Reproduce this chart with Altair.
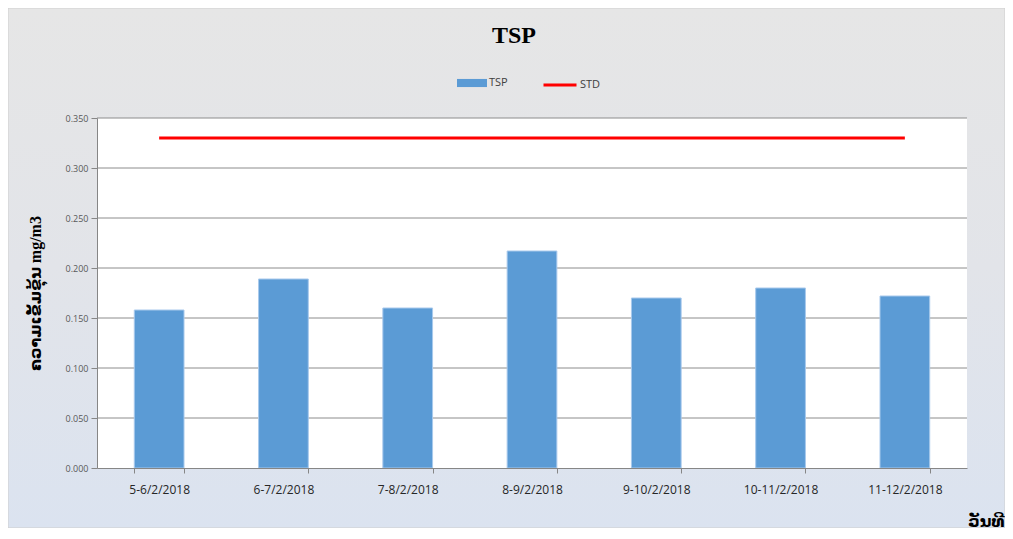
import altair as alt
import pandas as pd

dates = ["5-6/2/2018", "6-7/2/2018", "7-8/2/2018", "8-9/2/2018",
         "9-10/2/2018", "10-11/2/2018", "11-12/2/2018"]
tsp_values = [0.158, 0.189, 0.160, 0.217, 0.170, 0.180, 0.172]
std_values = [0.330, 0.330, 0.330, 0.330, 0.330, 0.330, 0.330]
y_ticks = [0.0, 0.05, 0.10, 0.15, 0.20, 0.25, 0.30, 0.35]
grid_values = [0.05, 0.10, 0.15, 0.20, 0.25, 0.30, 0.35]

W, H = 870, 350
PL, PT, PR, PB = 89, 110, 38, 60

bars_df = pd.DataFrame({"date": dates, "value": tsp_values, "series": "TSP"})
std_df = pd.DataFrame({"date": dates, "value": std_values, "series": "STD"})
grid_df = pd.DataFrame({"value": grid_values})

x_scale = alt.Scale(domain=dates, paddingInner=0.6, paddingOuter=0.3)
y_scale = alt.Scale(domain=[0, 0.35])

x_axis = alt.Axis(
    title="ວັນທີ", titleFont="Liberation Serif, DejaVu Sans", titleFontSize=16,
    titleFontWeight="bold", titleColor="#000000", titleAlign="right",
    titleBaseline="alphabetic", titleX=907, titleY=58, titleAnchor="end",
    labelAngle=0, labelFont="Open Sans", labelFontSize=12, labelColor="#262626",
    labelPadding=11, tickBand="extent", tickSize=5, tickColor="#868686",
    domainColor="#868686", grid=False, zindex=1,
)
y_axis = alt.Axis(
    title="ຄວາມເຂັ້ມຂຸ້ນ mg/m3", titleFont="Liberation Serif, DejaVu Sans",
    titleFontSize=16, titleFontWeight="bold", titleColor="#000000",
    titleAngle=270, titleAlign="center", titleBaseline="middle",
    titleX=-62, titleY=175,
    values=y_ticks, format=".3f", labelFont="Open Sans", labelFontSize=9,
    labelColor="#595959", labelPadding=3, tickSize=6, tickColor="#868686",
    domainColor="#868686", grid=False, zindex=1,
)

fill_enc = alt.Fill(
    "series:N", scale=alt.Scale(domain=["TSP"], range=["#5B9BD5"]),
    legend=alt.Legend(title=None, orient="none", legendX=360, legendY=-50,
                      symbolType="M-1,-0.27H1V0.27H-1Z", symbolSize=900,
                      symbolStrokeWidth=0, symbolOpacity=1,
                      labelFont="Open Sans", labelFontSize=11,
                      labelColor="#404040", labelOffset=2, zindex=1))
stroke_enc = alt.Stroke(
    "series:N", scale=alt.Scale(domain=["STD"], range=["#FF0000"]),
    legend=alt.Legend(title=None, orient="none", legendX=445, legendY=-51,
                      symbolType="stroke", symbolSize=1089,
                      symbolStrokeWidth=3, symbolOpacity=1,
                      labelFont="Open Sans", labelFontSize=11,
                      labelColor="#404040", labelOffset=2, zindex=1))

background = alt.Chart(alt.Data(values=[{}])).mark_rect(
    fill=alt.LinearGradient(
        gradient="linear",
        stops=[alt.GradientStop(color="#e6e6e6", offset=0),
               alt.GradientStop(color="#e2e4e9", offset=0.5),
               alt.GradientStop(color="#dbe3f0", offset=1)],
        x1=0, y1=0, x2=0, y2=1),
    stroke="#cfcfcf", strokeWidth=1,
).encode(x=alt.value(-PL), x2=alt.value(W + PR), y=alt.value(-PT), y2=alt.value(H + PB))

plot_bg = alt.Chart(alt.Data(values=[{}])).mark_rect(fill="#ffffff").encode(
    x=alt.value(0), x2=alt.value(W), y=alt.value(0), y2=alt.value(H))

grid = alt.Chart(grid_df).mark_rule(color="#8c8c8c", strokeWidth=1).encode(
    y=alt.Y("value:Q", scale=y_scale, axis=y_axis))

bars = alt.Chart(bars_df).mark_bar(stroke="#a8c9ec", strokeWidth=1).encode(
    x=alt.X("date:N", sort=dates, scale=x_scale, axis=x_axis),
    y=alt.Y("value:Q", scale=y_scale, axis=y_axis),
    fill=fill_enc,
)

std_line = alt.Chart(std_df).mark_line(strokeWidth=3).encode(
    x=alt.X("date:N", sort=dates, scale=x_scale, axis=x_axis),
    y=alt.Y("value:Q", scale=y_scale, axis=y_axis),
    stroke=stroke_enc,
)

chart = alt.layer(background, plot_bg, grid, bars, std_line).properties(
    width=W, height=H,
    padding={"left": PL, "top": PT, "right": PR, "bottom": PB},
    autosize=alt.AutoSizeParams(type="none"),
    title=alt.TitleParams("TSP", font="Liberation Serif", fontSize=24,
                          fontWeight="bold", color="#000000", anchor="middle",
                          baseline="alphabetic", offset=-59, dx=-18, zindex=1),
).configure_view(stroke=None).configure(background="#dfe3ec")

chart.save("out.html", embed_options={"renderer": "svg", "actions": False})
